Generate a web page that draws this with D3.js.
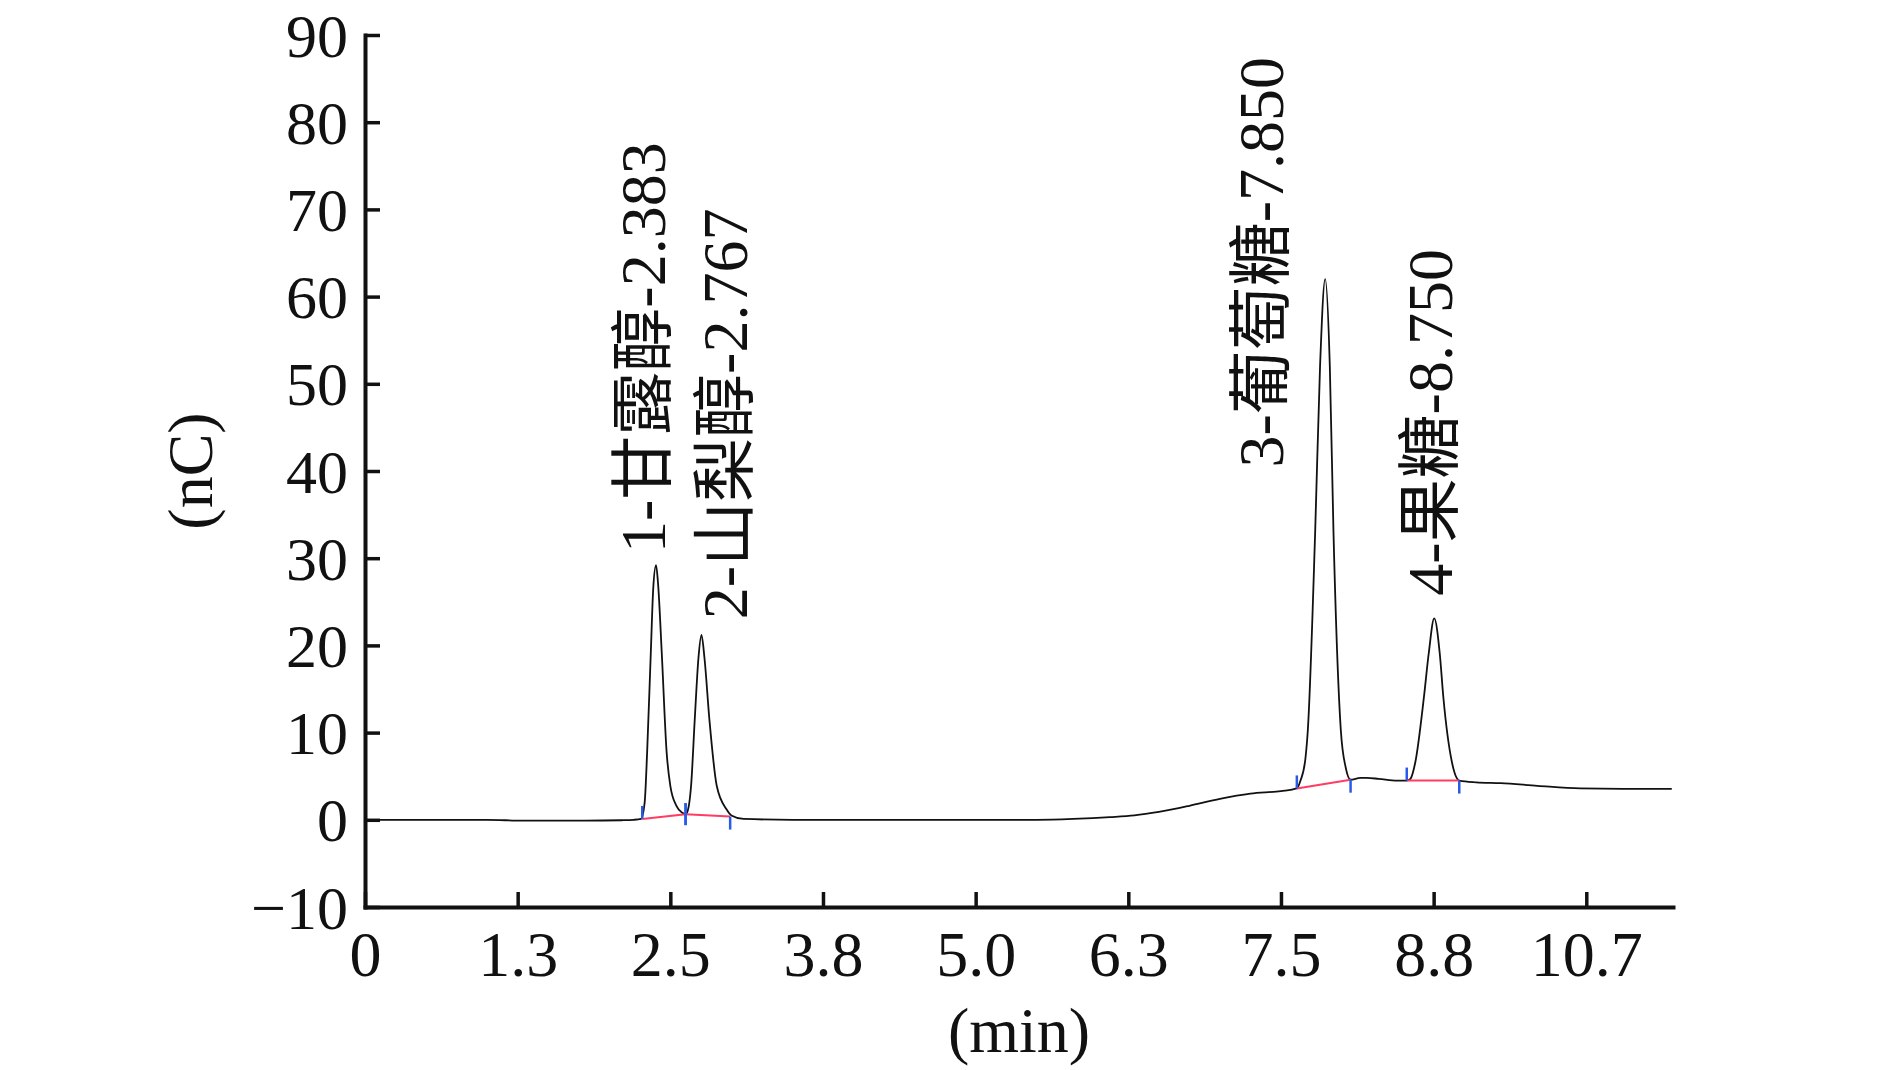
<!DOCTYPE html>
<html><head><meta charset="utf-8">
<script src="https://cdn.jsdelivr.net/npm/d3@7"></script>
<style>
html,body{margin:0;padding:0;background:#fff;}
svg text{font-family:"Liberation Serif","Times New Roman","Noto Sans CJK SC",serif;fill:#111;}
</style></head>
<body><svg id="c" width="1890" height="1070"></svg>
<script>
// ---- data ----
const xTickValues = [0, 1.25, 2.5, 3.75, 5.0, 6.25, 7.5, 8.75, 10.0];
const xTickLabels = ["0", "1.3", "2.5", "3.8", "5.0", "6.3", "7.5", "8.8", "10.7"];
const yTickValues = [-10, 0, 10, 20, 30, 40, 50, 60, 70, 80, 90];
const yTickLabels = ["\u221210", "0", "10", "20", "30", "40", "50", "60", "70", "80", "90"];
const xDomain = [0, 10.71];
const yDomain = [-10, 90];
const xTitle = "(min)";
const yTitle = "(nC)";

// chromatogram trace: time (min), signal (nC)
const traceTime = [0, 0.5, 1.0, 1.3, 1.8, 2.1, 2.2, 2.26, 2.29, 2.31, 2.34, 2.36, 2.383, 2.40, 2.43, 2.47, 2.50, 2.55, 2.60, 2.625,
  2.65, 2.67, 2.70, 2.73, 2.755, 2.78, 2.82, 2.88, 2.96, 3.00, 3.10, 3.5, 4.0, 5.0, 5.5, 5.8, 6.1, 6.3, 6.5, 6.75, 7.0, 7.25, 7.5, 7.63,
  7.66, 7.70, 7.72, 7.78, 7.82, 7.862, 7.90, 7.93, 7.99, 8.03, 8.07, 8.15, 8.2, 8.3, 8.45, 8.53, 8.56,
  8.60, 8.67, 8.71, 8.755, 8.80, 8.83, 8.90, 8.96, 9.1, 9.3, 9.6, 9.95, 10.3, 10.7];
const traceSignal = [0, 0, 0, -0.1, -0.1, -0.05, 0, 0.1, 2.0, 7.7, 19.1, 26.5, 29.2, 27.0, 19.1, 7.7, 3.9, 1.6, 0.8, 0.6,
  1.5, 3.9, 11.5, 18.5, 21.2, 18.5, 11.5, 3.9, 1.2, 0.5, 0.1, 0, 0, 0, 0, 0.1, 0.3, 0.5, 0.9, 1.6, 2.4, 3.0, 3.3, 3.6,
  4.5, 7.0, 10.3, 33.0, 52.0, 62.0, 52.0, 33.0, 10.3, 6.0, 4.6, 4.8, 4.8, 4.7, 4.5, 4.5, 4.7,
  6.6, 14.0, 19.1, 23.1, 19.1, 14.0, 6.6, 4.5, 4.3, 4.2, 3.9, 3.6, 3.55, 3.55];

// integration baselines: [startTime, startValue, endTime, endValue]
const baseStartT = [2.27, 2.625, 7.63, 8.53];
const baseStartV = [0.1, 0.65, 3.6, 4.5];
const baseEndT = [2.625, 2.99, 8.07, 8.96];
const baseEndV = [0.65, 0.37, 4.6, 4.5];

// peak labels and their anchor (time, signal)
const peakLabels = ["1-甘露醇-2.383", "2-山梨醇-2.767", "3-葡萄糖-7.850", "4-果糖-8.750"];
const labelT = [2.457, 3.129, 7.52, 8.90];
const labelV = [30.6, 23.0, 40.4, 25.7];

// ---- drawing ----
const svg = d3.select("#c");
svg.append("rect").attr("width", 1890).attr("height", 1070).attr("fill", "#fff");
const L = 365, R = 1673, T = 35, B = 907;
const x = d3.scaleLinear().domain(xDomain).range([L, R]);
const y = d3.scaleLinear().domain(yDomain).range([B, T]);
const FS = 64, FSY = 62;

// trace
const pts = traceTime.map((t, i) => [t, traceSignal[i]]);
svg.append("path").datum(pts)
  .attr("fill", "none").attr("stroke", "#111").attr("stroke-width", 1.8)
  .attr("d", d3.line().x(d => x(d[0])).y(d => y(d[1])).curve(d3.curveMonotoneX));

// integration baselines
baseStartT.forEach((t, i) => {
  svg.append("line")
    .attr("x1", x(t)).attr("y1", y(baseStartV[i]))
    .attr("x2", x(baseEndT[i])).attr("y2", y(baseEndV[i]))
    .attr("stroke", "#ff3c64").attr("stroke-width", 2);
});
// markers
const markers = [];
baseStartT.forEach((t, i) => markers.push({t: t, v: baseStartV[i], kind: "start"}));
baseEndT.forEach((t, i) => markers.push({t: t, v: baseEndV[i], kind: "end"}));
markers.forEach(m => {
  const shared = markers.some(o => o !== m && Math.abs(o.t - m.t) < 1e-6);
  const cy = y(m.v);
  let y1 = cy - 13, y2 = cy;
  if (m.kind === "end") { y1 = cy; y2 = cy + 13; }
  if (shared) { y1 = cy - 11; y2 = cy + 11; }
  svg.append("line").attr("x1", x(m.t)).attr("x2", x(m.t)).attr("y1", y1).attr("y2", y2)
    .attr("stroke", "#2a5be8").attr("stroke-width", 2.5);
});

// axes
const xAxis = d3.axisBottom(x).tickValues(xTickValues)
  .tickFormat((d, i) => xTickLabels[i]).tickSizeInner(-15).tickSizeOuter(0).tickPadding(24);
const gx = svg.append("g").attr("transform", `translate(0,${B})`).call(xAxis);
const yAxis = d3.axisLeft(y).tickValues(yTickValues)
  .tickFormat((d, i) => yTickLabels[i]).tickSizeInner(-15).tickSizeOuter(0).tickPadding(17);
const gy = svg.append("g").attr("transform", `translate(${L},0)`).call(yAxis);
[gx, gy].forEach(g => {
  g.select(".domain").attr("stroke", "#111").attr("stroke-width", 4).attr("stroke-linecap", "square");
  g.selectAll(".tick line").attr("stroke", "#111").attr("stroke-width", 3.5);
  g.selectAll(".tick text").attr("fill", "#111")
    .style("font-family", '"Liberation Serif","Times New Roman",serif');
});
gx.selectAll(".tick text").attr("font-size", FS);
gy.selectAll(".tick text").attr("font-size", FSY).attr("dy", "0.34em");

// axis titles
svg.append("text").attr("x", (L + R) / 2).attr("y", 1052).attr("text-anchor", "middle")
  .attr("font-size", FS).text(xTitle);
svg.append("text").attr("transform", `translate(212,${(T + B) / 2}) rotate(-90)`)
  .attr("text-anchor", "middle").attr("font-size", FS).text(yTitle);

// peak labels
peakLabels.forEach((s, i) => {
  svg.append("text")
    .attr("transform", `translate(${x(labelT[i])},${y(labelV[i])}) rotate(-90)`)
    .attr("text-anchor", "start").attr("font-size", FS).text(s);
});
</script></body></html>
